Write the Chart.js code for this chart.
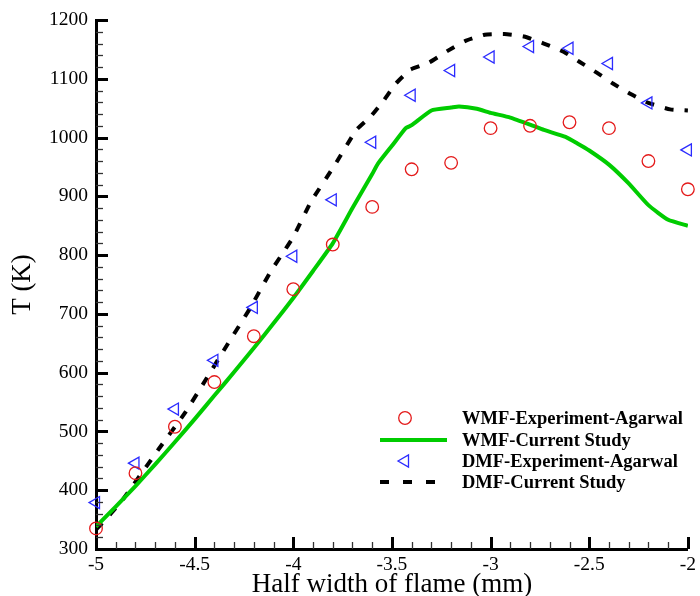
<!DOCTYPE html>
<html><head><meta charset="utf-8">
<script src="https://cdn.jsdelivr.net/npm/chart.js@4.4.1/dist/chart.umd.min.js"></script>
<style>html,body{margin:0;padding:0;background:#fff;} #wrap{width:700px;height:596px;}</style>
</head><body><div id="wrap"><canvas id="c" width="700" height="596"></canvas></div>
<script>
// ---- data ----
const xExp = [-5, -4.8, -4.6, -4.4, -4.2, -4.0, -3.8, -3.6, -3.4, -3.2, -3.0, -2.8, -2.6, -2.4, -2.2, -2.0];
const wmfExpT = [335, 429, 508, 584, 662, 742, 818, 882, 946, 957, 1016, 1020, 1026, 1016, 960, 912];
const dmfExpT = [379, 446, 538, 621, 711, 798, 894, 992, 1072, 1114, 1137, 1155, 1152, 1126, 1059, 979];

const wmfSimX = [-5, -4.9, -4.8, -4.7, -4.6, -4.5, -4.4, -4.3, -4.2, -4.1, -4.0, -3.9, -3.8, -3.7, -3.6, -3.57, -3.5, -3.43, -3.4, -3.3, -3.2, -3.16, -3.07, -3.0, -2.9, -2.8, -2.73, -2.62, -2.56, -2.5, -2.4, -2.3, -2.2, -2.1, -2.0];
const wmfSimT = [338, 372, 407, 444, 482, 521, 561, 601, 642, 684, 727, 773, 820, 880, 938, 956, 986, 1016, 1021, 1046, 1051, 1053, 1049, 1042, 1034, 1022, 1013, 1001, 990, 978, 954, 922, 885, 860, 850];

const dmfSimX = [-5, -4.93, -4.86, -4.68, -4.55, -4.44, -4.33, -4.22, -4.12, -4.06, -4.0, -3.91, -3.79, -3.68, -3.61, -3.54, -3.48, -3.41, -3.39, -3.31, -3.22, -3.13, -3.03, -2.93, -2.83, -2.73, -2.63, -2.55, -2.46, -2.38, -2.29, -2.2, -2.09, -2.0];
const dmfSimT = [333, 358, 386, 471, 531, 590, 650, 709, 769, 800, 831, 891, 953, 1013, 1035, 1064, 1092, 1115, 1118, 1128, 1147, 1164, 1175, 1176, 1172, 1160, 1146, 1129, 1110, 1092, 1074, 1059, 1048, 1046];

const xTicks = [-5, -4.5, -4, -3.5, -3, -2.5, -2];
const yTicks = [300, 400, 500, 600, 700, 800, 900, 1000, 1100, 1200];
const xMinorStep = 0.1;
const yMinorStep = 20;

const seriesLabels = ['WMF-Experiment-Agarwal', 'WMF-Current Study', 'DMF-Experiment-Agarwal', 'DMF-Current Study'];

const pts = (xs, ys) => xs.map((x, i) => ({x: x, y: ys[i]}));

const RED = '#e41a1a', GREEN = '#00cc00', BLUE = '#2b2bff';
const SERIF = '"Liberation Serif", "Times New Roman", serif';

const tickPlugin = {
  id: 'inTicks',
  afterDraw(chart) {
    const ctx = chart.ctx, xs = chart.scales.x, ys = chart.scales.y, a = chart.chartArea;
    ctx.save();
    const nx = Math.round((xs.max - xs.min) / xMinorStep);
    for (let i = 0; i <= nx; i++) {
      const v = xs.min + i * xMinorStep;
      const major = i % 5 === 0;
      const px = Math.round(xs.getPixelForValue(v)) + 0.5;
      ctx.lineWidth = major ? 3 : 1.3;
      ctx.strokeStyle = major ? '#000' : '#333';
      ctx.beginPath(); ctx.moveTo(px, a.bottom); ctx.lineTo(px, a.bottom - (major ? 12 : 7)); ctx.stroke();
    }
    const ny = Math.round((ys.max - ys.min) / yMinorStep);
    for (let i = 0; i <= ny; i++) {
      const v = ys.min + i * yMinorStep;
      const major = i % 5 === 0;
      const py = Math.round(ys.getPixelForValue(v)) + 0.5;
      ctx.lineWidth = major ? 3 : 1.3;
      ctx.strokeStyle = major ? '#000' : '#333';
      ctx.beginPath(); ctx.moveTo(a.left, py); ctx.lineTo(a.left + (major ? 12 : 7), py); ctx.stroke();
    }
    ctx.restore();
  }
};

const legendPlugin = {
  id: 'inLegend',
  afterDraw(chart) {
    const ctx = chart.ctx;
    const ds = chart.data.datasets;
    const rows = [418, 440, 461, 482];
    ctx.save();
    ds.forEach((d, r) => {
      const y = rows[r];
      if (d.showLine === false) {
        ctx.strokeStyle = d.pointBorderColor;
        ctx.lineWidth = d.pointBorderWidth;
        ctx.beginPath();
        if (d.pointStyle === 'circle') {
          ctx.arc(405, y, d.pointRadius, 0, Math.PI * 2);
        } else {
          const rad0 = (d.pointRotation || 0) * Math.PI / 180;
          for (let k = 0; k < 3; k++) {
            const rr = rad0 + k * 2 * Math.PI / 3;
            const px = 405 + Math.sin(rr) * d.pointRadius, py = y - Math.cos(rr) * d.pointRadius;
            if (k === 0) ctx.moveTo(px, py); else ctx.lineTo(px, py);
          }
          ctx.closePath();
        }
        ctx.stroke();
      } else {
        const dashed = d.borderDash && d.borderDash.length;
        ctx.strokeStyle = d.borderColor;
        ctx.lineWidth = d.borderWidth;
        ctx.lineCap = 'butt';
        ctx.setLineDash(dashed ? [9, 14] : []);
        ctx.beginPath();
        ctx.moveTo(380, y);
        ctx.lineTo(dashed ? 435 : 447, y);
        ctx.stroke();
        ctx.setLineDash([]);
      }
      ctx.fillStyle = '#000';
      ctx.font = 'bold 18.5px ' + SERIF;
      ctx.textBaseline = 'middle';
      ctx.textAlign = 'left';
      ctx.fillText(d.label, 462, y + 1);
    });
    ctx.restore();
  }
};

new Chart(document.getElementById('c'), {
  type: 'scatter',
  data: {
    datasets: [
      { label: seriesLabels[0], data: pts(xExp, wmfExpT), showLine: false, pointStyle: 'circle', pointRadius: 6.3,
        pointBorderColor: RED, pointBackgroundColor: 'rgba(0,0,0,0)', pointBorderWidth: 1.3, clip: false, order: 1 },
      { label: seriesLabels[1], data: pts(wmfSimX, wmfSimT), showLine: true, pointRadius: 0, borderColor: GREEN,
        borderWidth: 4, tension: 0.15, order: 3 },
      { label: seriesLabels[2], data: pts(xExp, dmfExpT), showLine: false, pointStyle: 'triangle',
        pointRotation: -90, pointRadius: 7, pointBorderColor: BLUE, pointBackgroundColor: 'rgba(0,0,0,0)',
        pointBorderWidth: 1.3, clip: false, order: 2 },
      { label: seriesLabels[3], data: pts(dmfSimX, dmfSimT), showLine: true, pointRadius: 0, borderColor: '#000',
        borderWidth: 4, borderDash: [9, 11], borderCapStyle: 'butt', tension: 0.15, order: 4 }
    ]
  },
  options: {
    responsive: false,
    animation: false,
    devicePixelRatio: 1,
    layout: { padding: { left: 0, right: 8, top: 20, bottom: 0 } },
    plugins: { legend: { display: false }, tooltip: { enabled: false } },
    scales: {
      x: {
        type: 'linear', min: -5, max: -2,
        afterBuildTicks: s => { s.ticks = xTicks.map(v => ({value: v})); },
        afterFit: s => { s.height = 47; },
        grid: { display: false, drawTicks: false },
        border: { display: true, color: '#000', width: 3 },
        ticks: { color: '#000', padding: 4, maxRotation: 0, autoSkip: false,
          font: { family: SERIF, size: 19.5 },
          callback: v => String(v) },
        title: { display: true, text: 'Half width of flame (mm)', color: '#000',
          font: { family: SERIF, size: 27 }, padding: { top: 0, bottom: -5 } }
      },
      y: {
        type: 'linear', min: 300, max: 1200,
        afterBuildTicks: s => { s.ticks = yTicks.map(v => ({value: v})); },
        afterFit: s => { s.width = 96; },
        grid: { display: false, drawTicks: false },
        border: { display: true, color: '#000', width: 3 },
        ticks: { color: '#000', padding: 8, autoSkip: false,
          font: { family: SERIF, size: 19.5 },
          callback: v => String(v) },
        title: { display: true, text: 'T (K)', color: '#000',
          font: { family: SERIF, size: 27 }, padding: { top: 7, bottom: 4 } }
      }
    }
  },
  plugins: [tickPlugin, legendPlugin]
});
</script>
</body></html>
